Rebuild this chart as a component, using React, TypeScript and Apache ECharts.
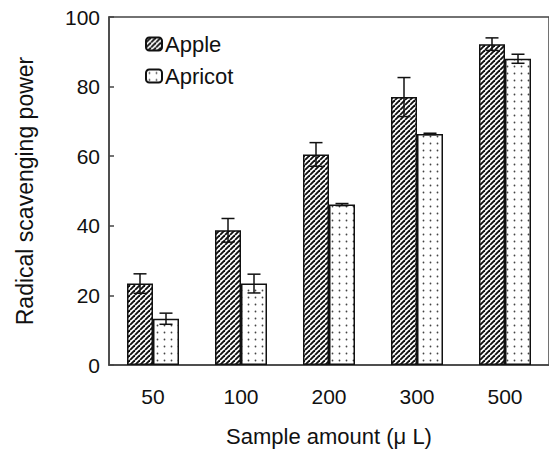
import React, { useEffect, useRef } from "react";
import * as echarts from "echarts";

const categories = ["50", "100", "200", "300", "500"];
const appleValues = [23.4, 38.7, 60.5, 77.0, 92.2];
const appleErrors = [2.8, 3.4, 3.4, 5.6, 1.8];
const apricotValues = [13.3, 23.4, 46.1, 66.4, 88.0];
const apricotErrors = [1.6, 2.7, 0.3, 0.2, 1.3];
const yTicks = { min: 0, max: 100, interval: 20 };

const FONT = "Liberation Sans, Arial, Helvetica, sans-serif";

function makeHatch() {
  const s = 5;
  const c = document.createElement("canvas");
  c.width = s;
  c.height = s;
  const ctx = c.getContext("2d")!;
  ctx.fillStyle = "#ffffff";
  ctx.fillRect(0, 0, s, s);
  ctx.strokeStyle = "#111111";
  ctx.lineWidth = 1.9;
  for (const off of [-s, 0, s]) {
    ctx.beginPath();
    ctx.moveTo(off, s);
    ctx.lineTo(off + s, 0);
    ctx.stroke();
  }
  return { image: c.toDataURL(), imageWidth: s, imageHeight: s, repeat: "repeat" };
}

function makeDots() {
  const w = 7;
  const h = 7;
  const c = document.createElement("canvas");
  c.width = w;
  c.height = h;
  const ctx = c.getContext("2d")!;
  ctx.fillStyle = "#ffffff";
  ctx.fillRect(0, 0, w, h);
  ctx.fillStyle = "#444444";
  ctx.beginPath();
  ctx.arc(3.5, 3.5, 0.9, 0, Math.PI * 2);
  ctx.fill();
  return { image: c.toDataURL(), imageWidth: w, imageHeight: h, repeat: "repeat" };
}

const BAR_W = 26;

function errorSeries(values: number[], errors: number[], offset: number) {
  return {
    type: "custom",
    silent: true,
    z: 10,
    data: values.map((v, i) => [i, v, errors[i]]),
    encode: { x: 0, y: 1 },
    renderItem: (params: any, api: any) => {
      const idx = api.value(0);
      const v = api.value(1);
      const e = api.value(2);
      const top = api.coord([idx, v + e]);
      const bot = api.coord([idx, v - e]);
      const x = top[0] + offset;
      const hw = 6.5;
      const style = { stroke: "#111", lineWidth: 1.5 };
      return {
        type: "group",
        children: [
          { type: "line", shape: { x1: x, y1: top[1], x2: x, y2: bot[1] }, style },
          { type: "line", shape: { x1: x - hw, y1: top[1], x2: x + hw, y2: top[1] }, style },
          { type: "line", shape: { x1: x - hw, y1: bot[1], x2: x + hw, y2: bot[1] }, style },
        ],
      };
    },
  };
}

export default function App() {
  const ref = useRef<HTMLDivElement>(null);
  useEffect(() => {
    if (!ref.current) return;
    const chart = echarts.init(ref.current, null, { renderer: "svg" });
    const hatch = makeHatch();
    const dots = makeDots();
    const axisLine = { lineStyle: { color: "#444", width: 1.5 } };
    chart.setOption({
      animation: false,
      backgroundColor: "#ffffff",
      textStyle: { fontFamily: FONT },
      grid: { left: 109, top: 17, bottom: 83, right: -3, show: true, borderColor: "#444", borderWidth: 1.5, containLabel: false },
      legend: {
        data: ["Apple", "Apricot"],
        orient: "vertical",
        left: 140,
        top: 28,
        itemWidth: 16,
        itemHeight: 13,
        itemGap: 10,
        textStyle: { fontSize: 22, color: "#111", fontFamily: FONT, padding: [0, 0, 0, -2] },
      },
      xAxis: {
        type: "category",
        data: categories,
        axisLine,
        axisTick: { inside: true, length: 5, lineStyle: { color: "#444", width: 1.5 } },
        axisLabel: { fontSize: 21, color: "#111", margin: 21, fontFamily: FONT },
        name: "Sample amount (\u03bc L)",
        nameLocation: "middle",
        nameGap: 60,
        nameTextStyle: { fontSize: 22, color: "#111", fontFamily: FONT },
        splitLine: { show: false },
      },
      yAxis: {
        type: "value",
        min: yTicks.min,
        max: yTicks.max,
        interval: yTicks.interval,
        axisLine: { show: true, ...axisLine },
        axisTick: { show: true, inside: true, length: 5, lineStyle: { color: "#444", width: 1.5 } },
        axisLabel: { fontSize: 21, color: "#111", margin: 9, fontFamily: FONT },
        splitLine: { show: false },
        name: "Radical scavenging power",
        nameLocation: "middle",
        nameGap: 73,
        nameTextStyle: { fontSize: 23, color: "#111", fontFamily: FONT },
      },
      series: [
        {
          name: "Apple",
          type: "bar",
          data: appleValues,
          barWidth: BAR_W,
          barGap: "0%",
          itemStyle: { color: hatch, borderColor: "#111", borderWidth: 1.5 },
        },
        {
          name: "Apricot",
          type: "bar",
          data: apricotValues,
          barWidth: BAR_W,
          barGap: "0%",
          itemStyle: { color: dots, borderColor: "#111", borderWidth: 1.5 },
        },
        errorSeries(appleValues, appleErrors, -BAR_W / 2),
        errorSeries(apricotValues, apricotErrors, BAR_W / 2),
      ],
    });
    return () => chart.dispose();
  }, []);
  return (
    <div
      ref={ref}
      style={{ position: "fixed", left: 0, top: 0, width: 549, height: 452 }}
    />
  );
}
